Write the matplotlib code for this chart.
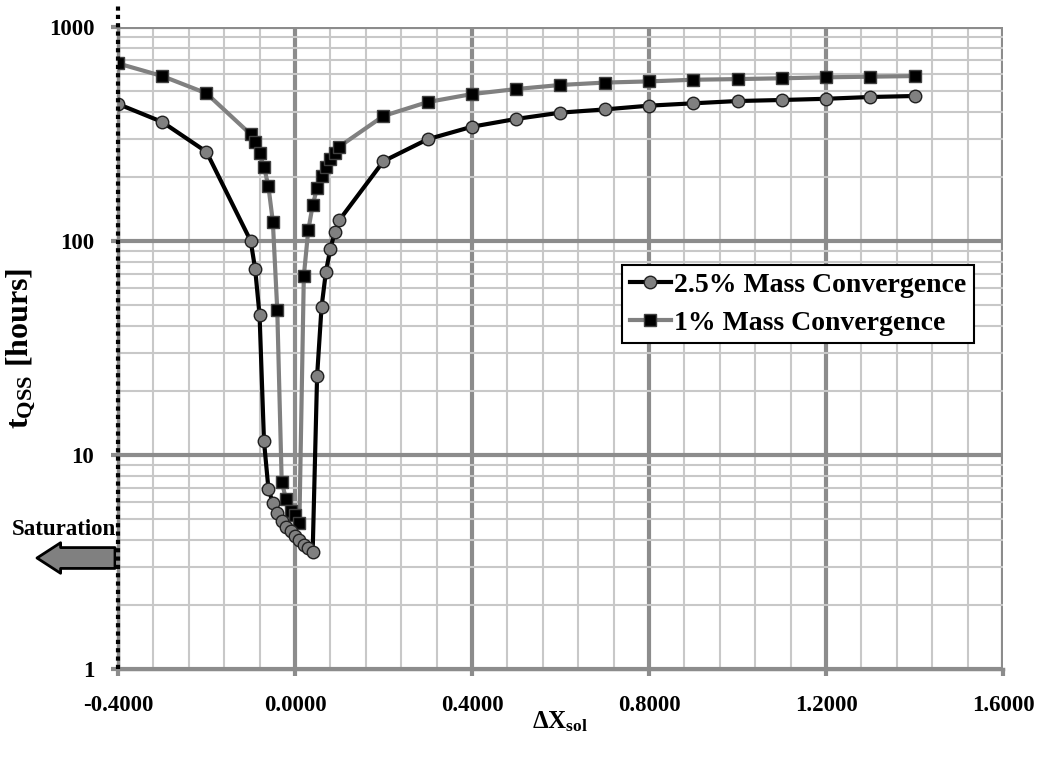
import numpy as np
import matplotlib
matplotlib.use('Agg')
import matplotlib.pyplot as plt
from matplotlib.ticker import MultipleLocator, LogLocator, FixedLocator, FixedFormatter, NullFormatter

plt.rcParams['font.family'] = ['Liberation Serif', 'DejaVu Serif']
plt.rcParams['font.weight'] = 'bold'
plt.rcParams['mathtext.fontset'] = 'custom'
plt.rcParams['mathtext.rm'] = 'Liberation Serif:bold'
plt.rcParams['mathtext.it'] = 'Liberation Serif:bold'
plt.rcParams['mathtext.bf'] = 'Liberation Serif:bold'

# 2.5% mass convergence
x25 = [-0.4, -0.3, -0.2, -0.1, -0.09, -0.08, -0.07, -0.06, -0.05, -0.04, -0.03, -0.02,
       -0.01, 0.0, 0.01, 0.02, 0.03, 0.04, 0.05, 0.06, 0.07, 0.08, 0.09, 0.1,
       0.2, 0.3, 0.4, 0.5, 0.6, 0.7, 0.8, 0.9, 1.0, 1.1, 1.2, 1.3, 1.4]
t25 = [437, 360, 261, 100, 74, 45, 11.6, 6.96, 5.95, 5.37, 4.93, 4.62,
       4.4, 4.2, 4.0, 3.8, 3.66, 3.53, 23.4, 49, 72, 92, 110, 125,
       236, 299, 342, 372, 398, 412, 429, 440, 451, 456, 462, 471, 476]

# 1% mass convergence
x1 = [-0.4, -0.3, -0.2, -0.1, -0.09, -0.08, -0.07, -0.06, -0.05, -0.04, -0.03, -0.02,
      -0.01, 0.0, 0.01, 0.02, 0.03, 0.04, 0.05, 0.06, 0.07, 0.08, 0.09, 0.1,
      0.2, 0.3, 0.4, 0.5, 0.6, 0.7, 0.8, 0.9, 1.0, 1.1, 1.2, 1.3, 1.4]
t1 = [676, 590, 490, 315, 289, 257, 222, 180, 123, 47.6, 7.5, 6.2,
      5.5, 5.25, 4.83, 68.6, 112, 147, 177, 201, 222, 242, 257, 276,
      384, 446, 486, 513, 536, 550, 557, 567, 571, 576, 582, 586, 590]

fig = plt.figure(figsize=(10.42, 7.61), dpi=100)
ax = fig.add_axes([0.1132, 0.1209, 0.8494, 0.8436])

ax.set_yscale('log')
ax.set_xlim(-0.4, 1.6)
ax.set_ylim(1, 1000)

ax.xaxis.set_major_locator(MultipleLocator(0.4))
ax.xaxis.set_minor_locator(MultipleLocator(0.08))
ax.xaxis.set_major_formatter(plt.FuncFormatter(lambda v, p: '%.4f' % v))
ax.yaxis.set_major_locator(FixedLocator([1, 10, 100, 1000]))
ax.yaxis.set_major_formatter(FixedFormatter(['1', '10', '100', '1000']))
ax.yaxis.set_minor_locator(LogLocator(base=10, subs=np.arange(2, 10)))
ax.yaxis.set_minor_formatter(NullFormatter())

ax.grid(which='major', color='#8c8c8c', lw=3, zorder=0)
ax.grid(which='minor', color='#c8c8c8', lw=1.5, zorder=0)
ax.set_axisbelow(True)
for s in ['top', 'right']:
    ax.spines[s].set_visible(False)
for s in ['left', 'bottom']:
    ax.spines[s].set_color('#8c8c8c')
    ax.spines[s].set_linewidth(2.5)
ax.tick_params(which='major', length=5, width=3, color='#8c8c8c', labelsize=16.5, pad=14)
ax.tick_params(which='minor', length=0)
ax.tick_params(axis='y', pad=12)

ax.plot(x25, t25, color='black', lw=3, marker='o', ms=9, mfc='#808080', mec='#202020',
        mew=1, label='2.5% Mass Convergence', zorder=4)
ax.plot(x1, t1, color='#808080', lw=3, marker='s', ms=9, mfc='black', mec='#404040',
        mew=1, label='1% Mass Convergence', zorder=3)

# saturation limit
ax.plot([-0.4, -0.4], [1, 1270], color='black', lw=3, ls=(0, (1, 1)), clip_on=False, zorder=5)
fig.text(12, 226, 'Saturation', transform=None, fontsize=16.5, fontweight='bold', va='baseline')
ax.annotate('', xy=(37, 203), xytext=(115, 203), xycoords='figure pixels',
            arrowprops=dict(arrowstyle='simple,head_length=0.85,head_width=1.1,tail_width=0.75',
                            mutation_scale=20, fc='#808080', ec='black', lw=2,
                            shrinkA=0, shrinkB=0))

ax.set_xlabel(r'$\Delta$X$_{sol}$', fontsize=18, fontweight='bold', va='top')
ax.xaxis.set_label_coords(0.5, -0.063)
ax.set_ylabel(r't$_{QSS}$ [hours]', fontsize=23, fontweight='bold')
ax.yaxis.set_label_coords(-0.09, 0.5)

leg = ax.legend(loc='upper right', bbox_to_anchor=(0.967, 0.629), fontsize=20,
                frameon=True, fancybox=False, edgecolor='black', framealpha=1,
                handlelength=1.5, handletextpad=0.1, borderpad=0.27, labelspacing=0.44,
                borderaxespad=0)
leg.get_frame().set_linewidth(1.5)

fig.savefig('out.png', dpi=100)
